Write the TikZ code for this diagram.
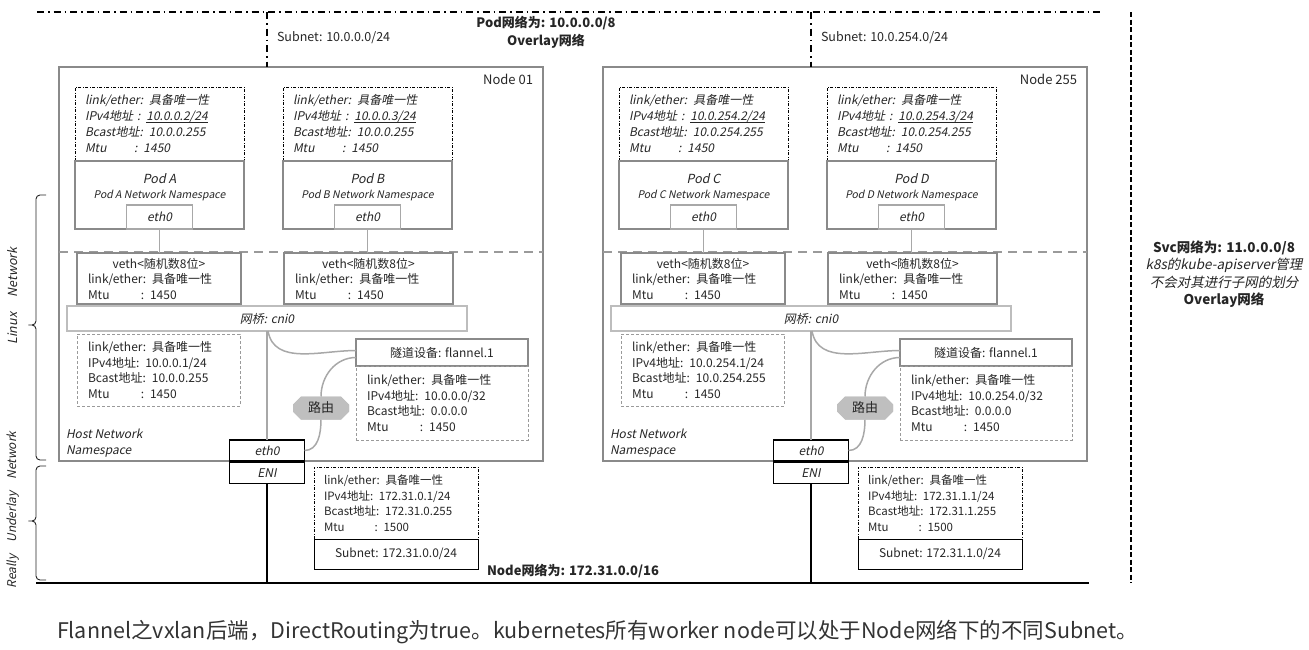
\documentclass[tikz,border=0pt]{standalone}
\usepackage{fontspec}
\setmainfont{Noto Sans CJK SC}[ItalicFont=Noto Sans CJK SC, ItalicFeatures={FakeSlant=0.2}]
\usetikzlibrary{shapes.misc}

\definecolor{ink}{HTML}{262626}
\definecolor{captink}{HTML}{333333}
\definecolor{boxgray}{HTML}{8A8A8A}
\definecolor{lightline}{HTML}{A8A8A8}
\definecolor{bridgegray}{HTML}{BDBDBD}
\definecolor{routefill}{HTML}{BFBFBF}
\definecolor{infogray}{HTML}{9A9A9A}

\newcommand\infofont{\fontsize{12}{15.5}\selectfont}
\newcommand\smallinfo{\fontsize{11.5}{15.5}\selectfont}
\newcommand\ipul[1]{\setbox0\hbox{#1}\rlap{\rule[-1.6pt]{\wd0}{0.6pt}}\box0}

\begin{document}
\begin{tikzpicture}[
  x=1pt, y=1pt,
  every node/.style={inner sep=0pt, outer sep=0pt, text=ink, font=\infofont},
  nodebox/.style={draw=boxgray, line width=1.5pt, minimum width=484, minimum height=394, anchor=north west},
  podinfo/.style={draw=black, line width=0.6pt, dash pattern=on 3pt off 1.5pt on 1pt off 1.5pt,
    anchor=north west, align=left, text width=149, inner xsep=10pt, minimum height=74,
    font=\fontsize{12}{16}\selectfont\itshape},
  podbox/.style={draw=boxgray, line width=1.5pt, minimum width=169, minimum height=68, anchor=north west},
  podlbl/.style={align=center, anchor=north, font=\fontsize{12.5}{14.5}\selectfont\itshape},
  podeth/.style={draw=lightline, fill=white, line width=1.5pt, minimum width=66, minimum height=24,
    anchor=south, font=\infofont\itshape},
  vethbox/.style={draw=boxgray, line width=1.5pt, anchor=north west, align=left, inner xsep=11pt, minimum height=51},
  bridge/.style={draw=bridgegray, fill=white, line width=1.5pt, minimum width=400, minimum height=25,
    anchor=north west, font=\infofont\itshape},
  hostinfo/.style={draw=infogray, line width=0.6pt, dash pattern=on 3pt off 2pt, anchor=north west,
    align=left, inner xsep=11pt},
  tunnel/.style={draw=boxgray, fill=white, line width=1.5pt, minimum width=172, minimum height=27, anchor=north west},
  routebox/.style={chamfered rectangle, chamfered rectangle xsep=4pt, chamfered rectangle ysep=4pt,
    fill=routefill, minimum width=56, minimum height=23, font=\fontsize{13}{14}\selectfont},
  hostif/.style={draw=black, fill=white, line width=1.3pt, minimum width=75, minimum height=21,
    anchor=north, font=\infofont\itshape},
  eniinfo/.style={draw=black, line width=0.6pt, dash pattern=on 3pt off 1.5pt on 1pt off 1.5pt,
    anchor=north west, align=left, text width=144, inner xsep=10pt, minimum height=72, font=\smallinfo},
  subnetbox/.style={draw=black, line width=1pt, minimum width=164, minimum height=30, anchor=north},
  link/.style={draw=lightline, line width=1.5pt},
  wire/.style={draw=black, line width=1.5pt},
  sepline/.style={draw=infogray, line width=1.5pt, dash pattern=on 9pt off 6pt},
  podnet/.style={draw=black, line width=1.3pt, dash pattern=on 7pt off 4pt on 1.5pt off 4pt},
  svcnet/.style={draw=black, line width=1.3pt, dash pattern=on 5pt off 2.5pt},
  bracket/.style={draw=ink, line width=0.9pt, rounded corners=4pt},
  title/.style={font=\fontsize{13}{18}\selectfont\bfseries}
  ]
  \useasboundingbox (0,0) rectangle (1309,-649);

  % network ranges
  \coordinate (top) at (0,-12);
  \coordinate (ground) at (0,-583);
  \draw[podnet] (37,-12) -- (1100,-12);
  \draw[svcnet] (1131,-12) -- (1131,-583);
  \draw[wire, line width=2.2pt] (36,-583) -- (1089,-583);

  \node[title, align=center] (podcidr) at (546,-32) {Pod网络为: 10.0.0.0/8\\Overlay网络};
  \node[title, anchor=west] (nodecidr) at (487,-571) {Node网络为: 172.31.0.0/16};
  \node[align=center, font=\fontsize{13.5}{17.5}\selectfont] (svccidr) at (1224,-274)
    {\textbf{Svc网络为: 11.0.0.0/8}\\\textit{k8s的kube-apiserver管理}\\\textit{不会对其进行子网的划分}\\\textbf{Overlay网络}};

  % two worker nodes
  \foreach \i/\ox/\nn/\pa/\pb/\pn/\hn in {1/0/01/A/B/10.0.0/172.31.0, 2/544/255/C/D/10.0.254/172.31.1}{
  \begin{scope}[xshift=\ox]
    \node[nodebox] (nd\i) at (59,-67) {};
    \node[anchor=north east, font=\fontsize{13}{14}\selectfont] (ndname\i) at ([xshift=-10pt,yshift=-7pt]nd\i.north east) {Node \nn};
    \node[anchor=south west, align=left, font=\infofont\itshape] (hostns\i) at ([xshift=7pt,yshift=4pt]nd\i.south west) {Host Network\\Namespace};
    \draw[sepline] (nd\i.west |- 0,-252) -- (nd\i.east |- 0,-252);

    % pods
    \foreach \p/\px/\vx/\vw/\q in {\pa/75/77/164/2, \pb/283/284/169/3}{
      \pgfmathsetmacro\tw{\vw-22}
      \node[podinfo] (info\p) at (\px,-87) {link/ether: 具备唯一性\\IPv4地址 : \ipul{\pn.\q/24}\\Bcast地址: \pn.255\\Mtu\hspace{2.3em}: 1450};
      \node[podbox] (pod\p) at (info\p.south west) {};
      \node[podlbl] (lbl\p) at ([yshift=-13pt]pod\p.north) {Pod \p\\{\fontsize{10.5}{13}\selectfont Pod \p\ Network Namespace}};
      \node[podeth] (podeth\p) at (pod\p.south) {eth0};
      \node[vethbox, text width=\tw] (veth\p) at (\vx,-253) {\makebox[\hsize]{veth<随机数8位>}\\link/ether: 具备唯一性\\Mtu\hspace{2.6em}: 1450};
      \draw[link] (podeth\p.south) -- (podeth\p.south |- veth\p.north);
    }

    % host side
    \node[bridge] (cni\i) at (67,-306) {网桥: cni0};
    \node[hostinfo, text width=141, minimum height=72] (cniinfo\i) at (77,-334) {link/ether: 具备唯一性\\IPv4地址: \pn.1/24\\Bcast地址: \pn.255\\Mtu\hspace{2.6em}: 1450};
    \node[tunnel] (flannel\i) at (356,-339) {隧道设备: flannel.1};
    \node[hostinfo, text width=150, minimum height=74] (flinfo\i) at (flannel\i.south west) {link/ether: 具备唯一性\\IPv4地址: \pn.0/32\\Bcast地址: 0.0.0.0\\Mtu\hspace{2.6em}: 1450};
    \node[hostif] (heth\i) at (cni\i.south |- 0,-440) {eth0};
    \node[hostif] (eni\i) at ([yshift=-1.5pt]heth\i.south) {ENI};
    \node[routebox] (route\i) at (321,-408) {路由};

    \draw[link] (cni\i.south) -- (heth\i.north);
    \draw[link] ([xshift=1pt]cni\i.south) to[out=-80,in=180] ([yshift=2pt]flannel\i.west);
    \draw[link] (heth\i.east) to[out=0,in=-90] (route\i.south);
    \draw[link] (route\i.north) to[out=90,in=180] ([yshift=-5pt]flannel\i.west);
    \node[routebox] at (route\i) {路由};

    % underlay
    \node[eniinfo] (enimeta\i) at (314,-467) {link/ether: 具备唯一性\\IPv4地址: \hn.1/24\\Bcast地址: \hn.255\\Mtu\hspace{2.6em}: 1500};
    \node[subnetbox, font=\fontsize{12}{14}\selectfont] (hsub\i) at (enimeta\i.south) {Subnet: \hn.0/24};
    \draw[wire] (eni\i.south) -- (eni\i.south |- ground);

    % pod subnet
    \draw[podnet] (cni\i.north |- top) -- (cni\i.north |- nd\i.north);
    \node[anchor=west, font=\fontsize{12.5}{14}\selectfont] (podsub\i) at ([xshift=10pt]cni\i.north |- 0,-38) {Subnet: \pn.0/24};
  \end{scope}
  }

  % layers
  \draw[bracket] (46,-195) -- (36,-195) -- (36,-325) -- (26,-325) -- (36,-325) -- (36,-460) -- (46,-460);
  \draw[bracket] (46,-466) -- (36,-466) -- (36,-521) -- (26,-521) -- (36,-521) -- (36,-580) -- (46,-580);
  \node[rotate=90, font=\fontsize{12.5}{14}\selectfont\itshape] (linuxnet) at (13,-296) {Linux\quad\ Network};
  \node[rotate=90, font=\fontsize{12}{14}\selectfont\itshape] (underlay) at (13,-510) {Really\quad Underlay\quad Network};

  \node[anchor=west, text=captink, font=\fontsize{21.5}{24}\selectfont] (caption) at (57,-632)
    {Flannel之vxlan后端，DirectRouting为true。kubernetes所有worker node可以处于Node网络下的不同Subnet。};
\end{tikzpicture}
\end{document}
